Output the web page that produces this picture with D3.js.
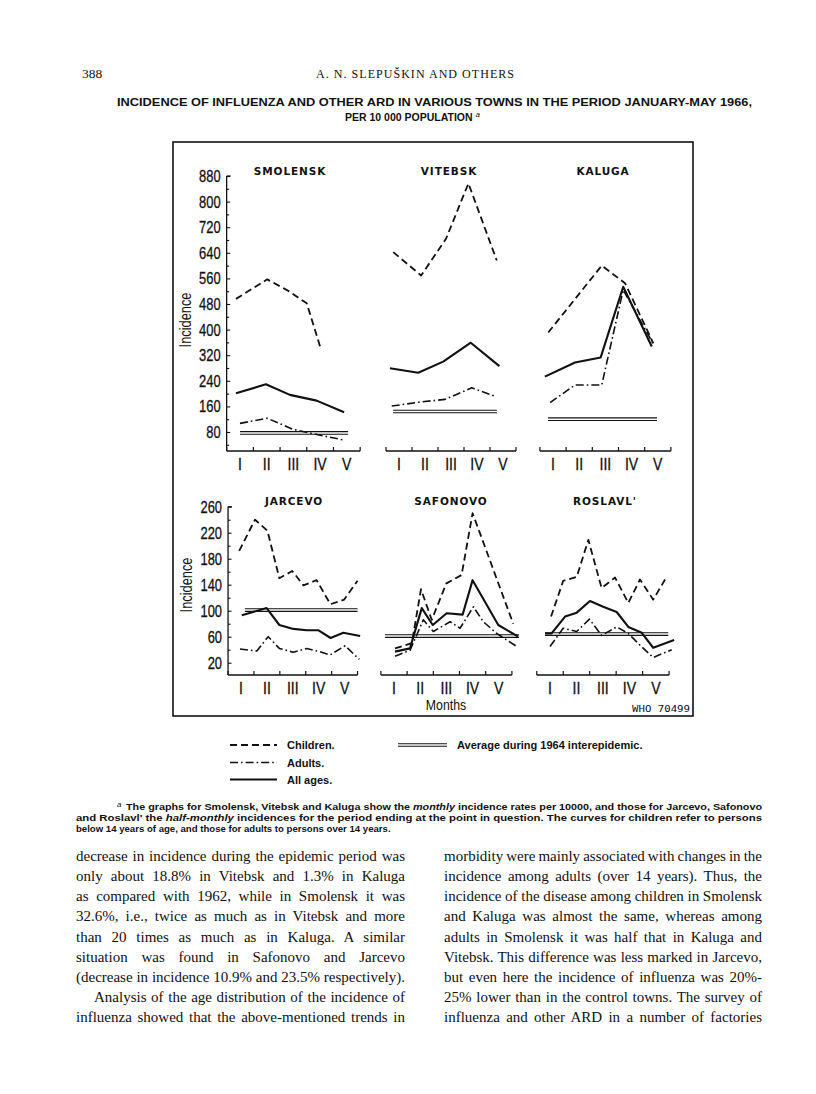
<!DOCTYPE html>
<html>
<head>
<meta charset="utf-8">
<script src="https://cdn.jsdelivr.net/npm/d3@7"></script>
<style>
body { margin: 0; background: #fff; }
</style>
</head>
<body>
<script>
// ---- data: [month position, incidence per 10 000] ----
const months = ["I", "II", "III", "IV", "V"];
const topTicks = [80, 160, 240, 320, 400, 480, 560, 640, 720, 800, 880];
const bottomTicks = [20, 60, 100, 140, 180, 220, 260];

const smolenskChildren = [[0.85, 496], [2.02, 557], [2.81, 521], [3.5, 482], [4.0, 347]];
const smolenskAll      = [[0.85, 201], [1.97, 229], [2.87, 196], [3.87, 178], [4.9, 142]];
const smolenskAdults   = [[1.0, 107], [2.02, 123], [3.0, 88], [4.0, 70], [4.88, 55]];
const smolenskAvg      = [[1.0, 77], [5.05, 77]];

const vitebskChildren = [[0.78, 642], [1.85, 569], [2.81, 684], [3.67, 857], [4.76, 616]];
const vitebskAll      = [[0.65, 279], [1.74, 265], [2.7, 300], [3.76, 359], [4.86, 286]];
const vitebskAdults   = [[0.72, 161], [1.74, 173], [2.77, 182], [3.8, 218], [4.69, 192]];
const vitebskAvg      = [[0.77, 144], [4.77, 144]];

const kalugaChildren = [[0.82, 391], [2.86, 600], [3.75, 545], [4.83, 357]];
const kalugaAll      = [[0.69, 253], [1.84, 297], [2.82, 313], [3.68, 534], [4.77, 347]];
const kalugaAdults   = [[0.89, 172], [1.84, 227], [2.86, 227], [3.68, 524], [4.85, 352]];
const kalugaAvg      = [[0.81, 120], [4.97, 120]];

const jarcevoChildren = [[0.93, 192], [1.54, 240], [2.02, 223], [2.48, 150], [2.98, 161], [3.41, 139], [3.92, 147], [4.45, 110], [4.98, 117], [5.5, 146]];
const jarcevoAll      = [[1.03, 93], [1.99, 104], [2.48, 78], [3.02, 72], [3.54, 70], [3.98, 70], [4.46, 58], [4.95, 66], [5.6, 61]];
const jarcevoAdults   = [[0.96, 41], [1.61, 38], [2.05, 60], [2.48, 42], [3.02, 36], [3.54, 42], [4.03, 37], [4.44, 32], [5.02, 46], [5.57, 25]];
const jarcevoAvg      = [[1.15, 101], [5.5, 101]];

const safonovoChildren = [[1.04, 42], [1.68, 50], [2.03, 133], [2.44, 86], [3.0, 142], [3.58, 155], [4.0, 250], [5.55, 80]];
const safonovoAll      = [[1.04, 37], [1.61, 42], [2.06, 104], [2.48, 78], [3.01, 96], [3.62, 94], [4.0, 147], [4.98, 78], [5.74, 60]];
const safonovoAdults   = [[1.04, 30], [1.61, 39], [2.12, 86], [2.5, 68], [3.14, 83], [3.52, 73], [4.03, 106], [4.41, 83], [4.92, 65], [5.68, 45]];
const safonovoAvg      = [[0.66, 61], [5.77, 61]];

const roslavlChildren = [[1.04, 91], [1.5, 146], [2.01, 152], [2.45, 209], [2.95, 135], [3.46, 151], [3.96, 112], [4.4, 148], [4.9, 117], [5.35, 148]];
const roslavlAll      = [[0.81, 65], [1.06, 65], [1.57, 91], [2.01, 97], [2.51, 115], [3.01, 106], [3.52, 98], [3.96, 75], [4.47, 66], [4.9, 43], [5.69, 55]];
const roslavlAdults   = [[1.0, 45], [1.5, 73], [2.01, 68], [2.49, 87], [2.95, 62], [3.52, 75], [3.96, 65], [4.4, 47], [4.9, 28], [5.6, 40]];
const roslavlAvg      = [[0.81, 64], [5.47, 64]];

// ---- page layout ----
const W = 816, H = 1094;
const sans = "'Liberation Sans', Arial, sans-serif";
const serif = "'Liberation Serif', 'Times New Roman', serif";
const ink = "#111";

const svg = d3.select("body").append("svg")
    .attr("width", W)
    .attr("height", H)
    .style("background", "#fff");

// squeeze a text horizontally, the figure uses a condensed face
function condense(sel, f) {
    sel.each(function() {
        const w = this.getComputedTextLength();
        d3.select(this).attr("textLength", w * f).attr("lengthAdjust", "spacingAndGlyphs");
    });
}

// justify a line by widening the word gaps
function justify(sel, width) {
    const w = sel.node().getComputedTextLength();
    const gaps = (sel.text().match(/ /g) || []).length;
    if (gaps) sel.attr("word-spacing", (width - w) / gaps);
}

const rows = {
    top:    { y: d3.scaleLinear().domain([0, 880]).range([457.6, 176]), axisY: 451, titleY: 175, labelY: 470, ticks: topTicks, minor: d3.range(40, 880, 80), yTop: 880, incY: 320 },
    bottom: { y: d3.scaleLinear().domain([0, 260]).range([675.7, 506.7]), axisY: 675, titleY: 505, labelY: 693.5, ticks: bottomTicks, minor: [40, 80, 120, 160, 200, 240], yTop: 260, incY: 585 }
};

const panels = [
    { name: "SMOLENSK", row: "top", x1: 240, step: 26.7, titleX: 290, yAxis: true, children: smolenskChildren, all: smolenskAll, adults: smolenskAdults, avg: smolenskAvg },
    { name: "VITEBSK", row: "top", x1: 399, step: 26, titleX: 449, children: vitebskChildren, all: vitebskAll, adults: vitebskAdults, avg: vitebskAvg },
    { name: "KALUGA", row: "top", x1: 553, step: 26.2, titleX: 603, children: kalugaChildren, all: kalugaAll, adults: kalugaAdults, avg: kalugaAvg },
    { name: "JARCEVO", row: "bottom", x1: 241, step: 25.9, titleX: 294, yAxis: true, children: jarcevoChildren, all: jarcevoAll, adults: jarcevoAdults, avg: jarcevoAvg },
    { name: "SAFONOVO", row: "bottom", x1: 394, step: 26.2, titleX: 451, children: safonovoChildren, all: safonovoAll, adults: safonovoAdults, avg: safonovoAvg },
    { name: "ROSLAVL'", row: "bottom", x1: 550, step: 26.46, titleX: 605, children: roslavlChildren, all: roslavlAll, adults: roslavlAdults, avg: roslavlAvg }
];

const styles = {
    children: { width: 1.8, dash: "7,4" },
    adults: { width: 1.6, dash: "8,3,1.6,3" },
    all: { width: 2.1, dash: null }
};

// ---- page header ----
svg.append("text").attr("x", 82).attr("y", 78)
    .attr("font-family", serif).attr("font-size", 13.5).attr("fill", ink).text("388");
svg.append("text").attr("x", 415).attr("y", 78).attr("text-anchor", "middle")
    .attr("font-family", serif).attr("font-size", 12).attr("fill", ink)
    .attr("textLength", 198).attr("lengthAdjust", "spacing")
    .text("A. N. SLEPUŠKIN AND OTHERS");

svg.append("text").attr("x", 117).attr("y", 106)
    .attr("font-family", sans).attr("font-weight", "bold").attr("font-size", 10.5).attr("fill", ink)
    .attr("textLength", 635).attr("lengthAdjust", "spacingAndGlyphs")
    .text("INCIDENCE OF INFLUENZA AND OTHER ARD IN VARIOUS TOWNS IN THE PERIOD JANUARY-MAY 1966,");
const sub = svg.append("text").attr("x", 345).attr("y", 121)
    .attr("font-family", sans).attr("font-weight", "bold").attr("font-size", 10.5).attr("fill", ink);
sub.append("tspan").text("PER 10 000 POPULATION ");
sub.append("tspan").attr("font-style", "italic").attr("font-weight", "normal")
    .attr("font-size", 8).attr("dy", -4).text("a");

// ---- chart frame ----
svg.append("rect")
    .attr("x", 173).attr("y", 142).attr("width", 520).attr("height", 574)
    .attr("fill", "none").attr("stroke", ink).attr("stroke-width", 1.6);

panels.forEach(p => {
    const row = rows[p.row];
    const y = row.y;
    const x = d3.scaleLinear().domain([1, 5]).range([p.x1, p.x1 + 4 * p.step]);
    const g = svg.append("g");

    g.append("text")
        .attr("x", p.titleX).attr("y", row.titleY)
        .attr("text-anchor", "middle")
        .attr("font-family", "'DejaVu Sans', sans-serif").attr("font-weight", "bold")
        .attr("font-size", 10.5).attr("letter-spacing", 0.9).attr("fill", ink)
        .text(p.name);

    // x axis: baseline with upward ticks at month boundaries
    g.append("line")
        .attr("x1", x(0.5)).attr("x2", x(5.5))
        .attr("y1", row.axisY).attr("y2", row.axisY)
        .attr("stroke", ink).attr("stroke-width", 1.3);
    g.selectAll(".xt").data([0.5, 1.5, 2.5, 3.5, 4.5, 5.5]).join("line")
        .attr("x1", d => x(d)).attr("x2", d => x(d))
        .attr("y1", row.axisY).attr("y2", row.axisY - 4)
        .attr("stroke", ink).attr("stroke-width", 1.2);
    g.selectAll(".xl").data(months).join("text")
        .attr("x", (d, i) => x(i + 1)).attr("y", row.labelY)
        .attr("text-anchor", "middle")
        .attr("font-family", sans).attr("font-size", 16.5).attr("fill", ink)
        .attr("stroke", ink).attr("stroke-width", 0.3)
        .text(d => d)
        .call(condense, 0.85);

    if (p.yAxis) {
        const ax = g.append("g").attr("transform", `translate(${x(0.5)},0)`);
        ax.call(d3.axisLeft(y).tickValues(row.ticks).tickSize(-3.5).tickPadding(6));
        ax.append("g").call(d3.axisLeft(y).tickValues(row.minor).tickSize(-2.5).tickFormat(""));
        ax.selectAll(".domain").remove();
        ax.selectAll("line").attr("stroke", ink).attr("stroke-width", 1.1);
        ax.selectAll("text")
            .attr("font-family", sans).attr("font-size", 17).attr("fill", ink)
            .attr("stroke", ink).attr("stroke-width", 0.3)
            .call(condense, 0.76);
        ax.append("line")
            .attr("y1", y(row.yTop)).attr("y2", row.axisY)
            .attr("stroke", ink).attr("stroke-width", 1.3);
        ax.append("line")
            .attr("x1", 0).attr("x2", 4).attr("y1", y(row.yTop)).attr("y2", y(row.yTop))
            .attr("stroke", ink).attr("stroke-width", 1.2);

        g.append("text")
            .attr("transform", `translate(${x(0.5) - 36},${row.incY}) rotate(-90)`)
            .attr("text-anchor", "middle")
            .attr("font-family", sans).attr("font-size", 16).attr("fill", ink)
            .text("Incidence")
            .call(condense, 0.8);
    }

    const line = d3.line().x(d => x(d[0])).y(d => y(d[1]));

    // average 1964: a double rule
    [-1.3, 1.3].forEach(off => {
        g.append("path")
            .attr("d", line(p.avg))
            .attr("transform", `translate(0,${off})`)
            .attr("fill", "none").attr("stroke", ink).attr("stroke-width", 1.1);
    });

    ["adults", "all", "children"].forEach(k => {
        g.append("path")
            .attr("d", line(p[k]))
            .attr("fill", "none")
            .attr("stroke", ink)
            .attr("stroke-width", styles[k].width)
            .attr("stroke-dasharray", styles[k].dash)
            .attr("stroke-linejoin", "round");
    });
});

svg.append("text").attr("x", 446).attr("y", 709.5).attr("text-anchor", "middle")
    .attr("font-family", sans).attr("font-size", 15).attr("fill", ink).text("Months")
    .call(condense, 0.82);
svg.append("text").attr("x", 632).attr("y", 712)
    .attr("font-family", "'DejaVu Sans Mono', monospace").attr("font-size", 9).attr("fill", ink)
    .attr("textLength", 58).attr("lengthAdjust", "spacingAndGlyphs").text("WHO 70499");

// ---- legend ----
const legendItems = [
    { key: "children", label: "Children.", x: 230, y: 745 },
    { key: "adults", label: "Adults.", x: 230, y: 762.5 },
    { key: "all", label: "All ages.", x: 230, y: 779.5 }
];
legendItems.forEach(d => {
    svg.append("line")
        .attr("x1", d.x).attr("x2", d.x + 47).attr("y1", d.y).attr("y2", d.y)
        .attr("stroke", ink).attr("stroke-width", styles[d.key].width)
        .attr("stroke-dasharray", styles[d.key].dash);
    svg.append("text").attr("x", d.x + 57).attr("y", d.y + 4)
        .attr("font-family", sans).attr("font-weight", "bold").attr("font-size", 11).attr("fill", ink)
        .text(d.label);
});
[-1.3, 1.3].forEach(off => {
    svg.append("line")
        .attr("x1", 398).attr("x2", 447).attr("y1", 745 + off).attr("y2", 745 + off)
        .attr("stroke", ink).attr("stroke-width", 1.1);
});
svg.append("text").attr("x", 457).attr("y", 749)
    .attr("font-family", sans).attr("font-weight", "bold").attr("font-size", 11).attr("fill", ink)
    .text("Average during 1964 interepidemic.");

// ---- footnote ----
const foot = [
    { x: 126, y: 810, len: 636, parts: [["The graphs for Smolensk, Vitebsk and Kaluga show the ", false], ["monthly", true], [" incidence rates per 10000, and those for Jarcevo, Safonovo", false]] },
    { x: 76, y: 821, len: 686, parts: [["and Roslavl' the ", false], ["half-monthly", true], [" incidences for the period ending at the point in question. The curves for children refer to persons", false]] },
    { x: 76, y: 832, len: null, parts: [["below 14 years of age, and those for adults to persons over 14 years.", false]] }
];
svg.append("text").attr("x", 117).attr("y", 807)
    .attr("font-family", sans).attr("font-style", "italic").attr("font-size", 8).attr("fill", ink).text("a");
foot.forEach(f => {
    const t = svg.append("text").attr("x", f.x).attr("y", f.y)
        .attr("font-family", sans).attr("font-weight", "bold").attr("font-size", 9.6).attr("fill", ink);
    if (f.len) t.attr("textLength", f.len).attr("lengthAdjust", "spacingAndGlyphs");
    f.parts.forEach(([s, it]) => t.append("tspan").attr("font-style", it ? "italic" : "normal").text(s));
});

// ---- body text ----
const leftCol = [
    "decrease in incidence during the epidemic period was",
    "only about 18.8% in Vitebsk and 1.3% in Kaluga",
    "as compared with 1962, while in Smolensk it was",
    "32.6%, i.e., twice as much as in Vitebsk and more",
    "than 20 times as much as in Kaluga. A similar",
    "situation was found in Safonovo and Jarcevo",
    "(decrease in incidence 10.9% and 23.5% respectively).",
    "Analysis of the age distribution of the incidence of",
    "influenza showed that the above-mentioned trends in"
];
const rightCol = [
    "morbidity were mainly associated with changes in the",
    "incidence among adults (over 14 years). Thus, the",
    "incidence of the disease among children in Smolensk",
    "and Kaluga was almost the same, whereas among",
    "adults in Smolensk it was half that in Kaluga and",
    "Vitebsk. This difference was less marked in Jarcevo,",
    "but even here the incidence of influenza was 20%-",
    "25% lower than in the control towns. The survey of",
    "influenza and other ARD in a number of factories"
];
[[leftCol, 76, 405], [rightCol, 444, 762]].forEach(([lines, x0, x1]) => {
    lines.forEach((s, i) => {
        const indent = s.startsWith("Analysis") ? 18 : 0;
        const t = svg.append("text")
            .attr("x", x0 + indent).attr("y", 861 + i * 20.15)
            .attr("font-family", serif).attr("font-size", 15).attr("fill", ink)
            .text(s);
        justify(t, x1 - x0 - indent);
        if (t.node().getComputedTextLength() > x1 - x0 - indent + 0.5) {
            t.attr("word-spacing", null)
                .attr("textLength", x1 - x0 - indent).attr("lengthAdjust", "spacing");
        }
    });
});
</script>
</body>
</html>
